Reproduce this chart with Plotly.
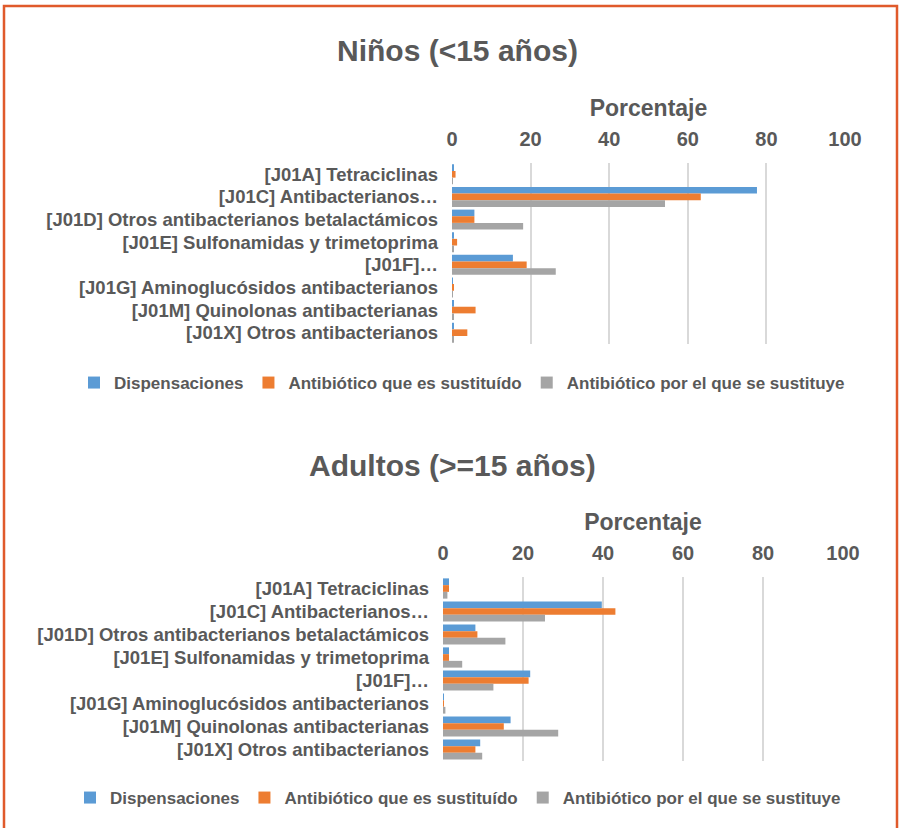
import plotly.graph_objects as go

categories = [
    "[J01A] Tetraciclinas",
    "[J01C] Antibacterianos…",
    "[J01D] Otros antibacterianos betalactámicos",
    "[J01E] Sulfonamidas y trimetoprima",
    "[J01F]…",
    "[J01G] Aminoglucósidos antibacterianos",
    "[J01M] Quinolonas antibacterianas",
    "[J01X] Otros antibacterianos",
]
series_names = ["Dispensaciones", "Antibiótico que es sustituído", "Antibiótico por el que se sustituye"]

ninos_dispensaciones = [0.3, 77.6, 5.7, 0.5, 15.5, 0.1, 0.5, 0.5]
ninos_sustituido = [0.9, 63.3, 5.7, 1.3, 19.0, 0.5, 6.0, 3.9]
ninos_sustituye = [0.1, 54.2, 18.1, 0.5, 26.4, 0.1, 0.5, 0.5]

adultos_dispensaciones = [1.5, 39.7, 8.1, 1.5, 21.8, 0.2, 16.9, 9.3]
adultos_sustituido = [1.5, 43.1, 8.6, 1.5, 21.4, 0.2, 15.2, 8.1]
adultos_sustituye = [1.1, 25.5, 15.6, 4.8, 12.6, 0.6, 28.8, 9.8]

colors = ["#5B9BD5", "#ED7D31", "#A5A5A5"]
TXT = "#595959"
FONT = "Liberation Sans"

W, H = 901, 828

def px_x(v):
    return v / W

def px_y(v):
    return 1 - v / H

fig = go.Figure()

for vals, name, col in zip([ninos_dispensaciones, ninos_sustituido, ninos_sustituye], series_names, colors):
    fig.add_trace(go.Bar(y=categories, x=vals, name=name, orientation="h",
                         marker=dict(color=col, line=dict(width=0)),
                         xaxis="x", yaxis="y", legend="legend"))
for vals, name, col in zip([adultos_dispensaciones, adultos_sustituido, adultos_sustituye], series_names, colors):
    fig.add_trace(go.Bar(y=categories, x=vals, name=name, orientation="h",
                         marker=dict(color=col, line=dict(width=0)),
                         xaxis="x2", yaxis="y2", legend="legend2"))

xcommon = dict(range=[0, 100], dtick=20, side="top", showgrid=True, gridcolor="#D9D9D9",
               gridwidth=1.5, zeroline=False, showline=False, ticks="", automargin=False,
               tickfont=dict(family=FONT, size=20, color=TXT, weight="bold"),
               ticklabelstandoff=12,
               title=dict(text="Porcentaje", font=dict(family=FONT, size=23, color=TXT, weight="bold"), standoff=4))
ycommon = dict(autorange="reversed", showgrid=False, zeroline=False, showline=False, ticks="",
               automargin=False,
               tickfont=dict(family=FONT, size=18.5, color=TXT, weight="bold"),
               ticklabelstandoff=13)

legend_font = dict(family=FONT, size=17, color=TXT, weight="bold")

fig.update_layout(
    width=W, height=H,
    margin=dict(l=0, r=0, t=0, b=0, autoexpand=False),
    paper_bgcolor="white", plot_bgcolor="white",
    barmode="group", bargap=0.12, bargroupgap=0,
    xaxis=dict(domain=[px_x(452), px_x(845)], anchor="y", **xcommon),
    yaxis=dict(domain=[px_y(344), px_y(163)], anchor="x", **ycommon),
    xaxis2=dict(domain=[px_x(443), px_x(843)], anchor="y2", **xcommon),
    yaxis2=dict(domain=[px_y(761), px_y(577)], anchor="x2", **ycommon),
    legend=dict(orientation="h", x=px_x(462), xanchor="center", y=px_y(383), yanchor="middle",
                font=legend_font, itemwidth=30, traceorder="normal"),
    legend2=dict(orientation="h", x=px_x(458), xanchor="center", y=px_y(798), yanchor="middle",
                 font=legend_font, itemwidth=30, traceorder="normal"),
    annotations=[
        dict(text="Niños (<15 años)", x=px_x(457), y=px_y(50), xref="paper", yref="paper",
             xanchor="center", yanchor="middle",
             showarrow=False, font=dict(family=FONT, size=30, color=TXT, weight="bold")),
        dict(text="Adultos (>=15 años)", x=px_x(452), y=px_y(466), xref="paper", yref="paper",
             xanchor="center", yanchor="middle",
             showarrow=False, font=dict(family=FONT, size=30, color=TXT, weight="bold")),
    ],
    shapes=[
        dict(type="path", xref="paper", yref="paper",
             path=f"M {px_x(4)} -0.05 L {px_x(4)} {px_y(6)} L {px_x(897)} {px_y(6)} L {px_x(897)} -0.05",
             line=dict(color="#E05A2B", width=2.5)),
    ],
)

fig.write_html("out.html", config={"displayModeBar": False},
               post_script="document.body.style.margin='0';document.body.style.overflow='hidden';")
